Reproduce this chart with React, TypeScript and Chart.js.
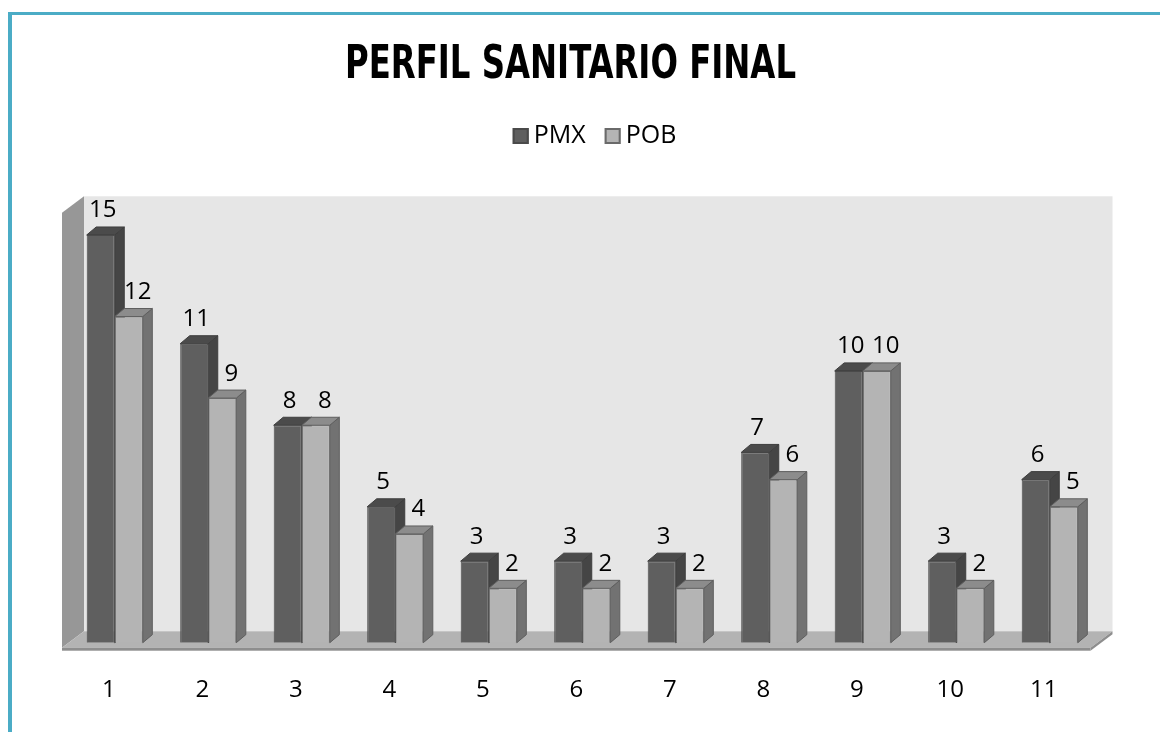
import React, { useEffect, useRef } from "react";
import { Chart, registerables } from "chart.js";

Chart.register(...registerables);

// ---- data ----
const categories = ["1", "2", "3", "4", "5", "6", "7", "8", "9", "10", "11"];
const pmxValues = [15, 11, 8, 5, 3, 3, 3, 7, 10, 3, 6];
const pobValues = [12, 9, 8, 4, 2, 2, 2, 6, 10, 2, 5];
const seriesNames = ["PMX", "POB"];
const titleText = "PERFIL SANITARIO FINAL";
const yMax = 16;

// ---- style ----
const FONT = '"Open Sans", "Noto Sans", sans-serif';
const TITLE_FONT = '"Liberation Sans Narrow", "Arial Narrow", "DejaVu Sans Condensed", "Liberation Sans", sans-serif';
const frontColors = ["#5f5f5f", "#b4b4b4"];
const borderColors = ["#4a4a4a", "#6a6a6a"];
const topColors = ["#4b4b4b", "#8c8c8c"];
const sideColors = ["#454545", "#727272"];
const edgeColors = ["#3e3e3e", "#5e5e5e"];
const labelDx = [2, 9];
const BAR_DX = 9.5;
const BAR_DY = 8;
const FRONT = { dx: -6, dy: 5 };
const BACK = { dx: 16, dy: -11.5 };

function poly(ctx: CanvasRenderingContext2D, pts: number[][], fill: string, stroke?: string) {
  ctx.beginPath();
  ctx.moveTo(pts[0][0], pts[0][1]);
  for (let i = 1; i < pts.length; i++) ctx.lineTo(pts[i][0], pts[i][1]);
  ctx.closePath();
  ctx.fillStyle = fill;
  ctx.fill();
  if (stroke) {
    ctx.strokeStyle = stroke;
    ctx.lineWidth = 1;
    ctx.stroke();
  }
}

const scenePlugin = {
  id: "scene3d",
  beforeDatasetsDraw(chart: any) {
    const { ctx, chartArea: a, scales } = chart;
    const y = scales.y;
    const top = y.getPixelForValue(yMax);
    const bot = y.getPixelForValue(0);
    ctx.save();
    const bx0 = a.left + BACK.dx;
    const bx1 = a.right + BACK.dx;
    const byTop = top + BACK.dy;
    const byBot = bot + BACK.dy;
    const fx0 = a.left + FRONT.dx;
    const fx1 = a.right + FRONT.dx;
    const fyTop = top + FRONT.dy;
    const fyBot = bot + FRONT.dy;
    // back wall
    ctx.fillStyle = "#e6e6e6";
    ctx.fillRect(bx0, byTop, bx1 - bx0, byBot - byTop);
    // left wall
    poly(ctx, [[fx0, fyTop], [bx0, byTop], [bx0, byBot], [fx0, fyBot]], "#979797");
    // floor
    poly(ctx, [[fx0, fyBot], [fx1, fyBot], [bx1, byBot], [bx0, byBot]], "#b3b3b3");
    ctx.fillStyle = "#8e8e8e";
    ctx.fillRect(fx0, fyBot, fx1 - fx0, 3);
    poly(ctx, [[fx1, fyBot], [bx1, byBot], [bx1, byBot + 3], [fx1, fyBot + 3]], "#8e8e8e");
    // bar depth faces
    chart.data.datasets.forEach((_ds: any, di: number) => {
      const meta = chart.getDatasetMeta(di);
      meta.data.forEach((bar: any) => {
        const { x, y: yt, base, width } = bar.getProps(["x", "y", "base", "width"], true);
        const L = x - width / 2;
        const R = x + width / 2;
        poly(ctx, [[R, yt], [R + BAR_DX, yt - BAR_DY], [R + BAR_DX, base - BAR_DY], [R, base]], sideColors[di], edgeColors[di]);
        poly(ctx, [[L, yt], [L + BAR_DX, yt - BAR_DY], [R + BAR_DX, yt - BAR_DY], [R, yt]], topColors[di], edgeColors[di]);
      });
    });
    ctx.restore();
  },
  afterDatasetsDraw(chart: any) {
    const { ctx } = chart;
    ctx.save();
    ctx.font = `24px ${FONT}`;
    ctx.fillStyle = "#000";
    ctx.textAlign = "center";
    ctx.textBaseline = "alphabetic";
    chart.data.datasets.forEach((ds: any, di: number) => {
      const meta = chart.getDatasetMeta(di);
      meta.data.forEach((bar: any, i: number) => {
        const { x, y: yt } = bar.getProps(["x", "y"], true);
        ctx.fillText(String(ds.data[i]), x + labelDx[di], yt - 17.5);
      });
    });
    ctx.restore();
  },
  afterDraw(chart: any) {
    const { ctx } = chart;
    ctx.save();
    // title
    let size = 47;
    ctx.font = `bold ${size}px ${TITLE_FONT}`;
    let m = ctx.measureText(titleText);
    const asc = m.actualBoundingBoxAscent || size * 0.72;
    size = (size * 34) / asc;
    ctx.font = `bold ${size}px ${TITLE_FONT}`;
    m = ctx.measureText(titleText);
    const w = m.width;
    const sx = 451 / w;
    ctx.translate(570.5, 78);
    ctx.scale(sx, 1);
    ctx.fillStyle = "#000";
    ctx.textAlign = "center";
    ctx.textBaseline = "alphabetic";
    ctx.fillText(titleText, 0, 0);
    ctx.restore();

    // legend
    ctx.save();
    ctx.font = `25px ${FONT}`;
    const widths = seriesNames.map((s) => ctx.measureText(s).width);
    const box = 16;
    const gap = 5;
    const itemGap = 19;
    const total = widths.reduce((acc, tw) => acc + box + gap + tw, 0) + itemGap * (seriesNames.length - 1);
    let cx = 594.5 - total / 2;
    seriesNames.forEach((name, i) => {
      ctx.fillStyle = frontColors[i];
      ctx.fillRect(cx, 128, box, box);
      ctx.strokeStyle = i === 0 ? "#4a4a4a" : "#6a6a6a";
      ctx.lineWidth = 2;
      ctx.strokeRect(cx + 1, 129, box - 2, box - 2);
      ctx.fillStyle = "#000";
      ctx.textAlign = "left";
      ctx.textBaseline = "alphabetic";
      ctx.fillText(name, cx + box + gap, 143);
      cx += box + gap + widths[i] + itemGap;
    });
    ctx.restore();
  },
};

export default function App() {
  const ref = useRef<HTMLCanvasElement | null>(null);

  useEffect(() => {
    if (!ref.current) return;
    const chart = new Chart(ref.current, {
      type: "bar",
      data: {
        labels: categories,
        datasets: [
          {
            label: seriesNames[0],
            data: pmxValues,
            backgroundColor: frontColors[0],
            borderColor: borderColors[0],
            borderWidth: 1,
            categoryPercentage: 0.6,
            barPercentage: 1.0,
          },
          {
            label: seriesNames[1],
            data: pobValues,
            backgroundColor: frontColors[1],
            borderColor: borderColors[1],
            borderWidth: 1,
            categoryPercentage: 0.6,
            barPercentage: 1.0,
          },
        ],
      },
      options: {
        responsive: false,
        animation: false,
        devicePixelRatio: 1,
        layout: { padding: { left: 68, right: 63.5, top: 207.8, bottom: 0 } },
        plugins: {
          legend: { display: false },
          title: { display: false },
          tooltip: { enabled: false },
        },
        scales: {
          x: {
            grid: { display: false, drawTicks: false },
            border: { display: false },
            ticks: {
              color: "#000",
              font: { family: FONT, size: 24 },
              padding: 33,
              labelOffset: -6,
              maxRotation: 0,
              autoSkip: false,
            },
            afterFit: (s: any) => {
              s.height = 89.3;
            },
          },
          y: { display: false, min: 0, max: yMax },
        },
      },
      plugins: [scenePlugin],
    } as any);
    return () => chart.destroy();
  }, []);

  return (
    <>
      <div
        style={{
          position: "fixed",
          left: 8,
          top: 12,
          width: 1152,
          height: 720,
          boxSizing: "border-box",
          borderTop: "3px solid #4bacc6",
          borderLeft: "4px solid #4bacc6",
        }}
      />
      <canvas
        ref={ref}
        width={1160}
        height={732}
        style={{ position: "fixed", left: 0, top: 0, width: 1160, height: 732 }}
      />
    </>
  );
}
